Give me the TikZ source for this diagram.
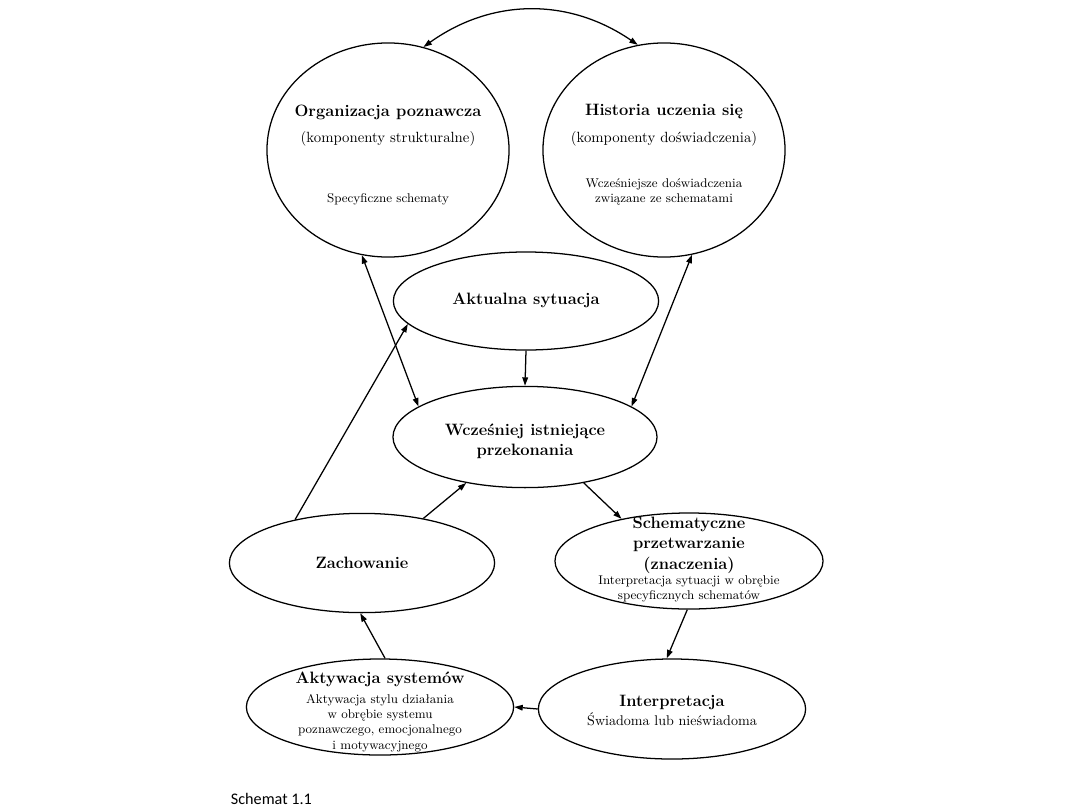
\documentclass[tikz,border=0pt]{standalone}
\usepackage{fontspec}
\newfontfamily\capfont{Carlito}
\usetikzlibrary{shapes.geometric,arrows.meta}
\begin{document}
\begin{tikzpicture}[x=0.025cm,y=-0.025cm,
  oval/.style={draw,ellipse,line width=0.9pt,inner sep=0pt},
  big/.style={font=\fontsize{11.7}{14.5}\selectfont\bfseries,align=center},
  mid/.style={font=\fontsize{10.5}{12}\selectfont,align=center},
  small/.style={font=\fontsize{9}{11}\selectfont,align=center},
  arr/.style={-{Triangle[length=6pt,width=4pt]},line width=0.9pt},
  arrboth/.style={{Triangle[length=6pt,width=4pt]}-{Triangle[length=6pt,width=4pt]},line width=0.9pt}]
  \useasboundingbox (0,0) rectangle (1080,810);

  % gorne kola
  \node[oval,minimum width=6.05cm,minimum height=5.35cm] (org) at (388,150) {};
  \node[oval,minimum width=6.05cm,minimum height=5.35cm] (hist) at (664,150) {};
  \node[big] (orgtitle) at (388,112) {Organizacja poznawcza};
  \node[mid] (orgsub) at (388,139) {(komponenty strukturalne)};
  \node[small] (orgnote) at (388,199) {Specyficzne schematy};
  \node[big] (histtitle) at (664,112) {Historia uczenia się};
  \node[mid] (histsub) at (664,139) {(komponenty doświadczenia)};
  \node[small] (histnote) at (664,192) {Wcześniejsze doświadczenia\\związane ze schematami};

  % srodek
  \node[oval,minimum width=6.63cm,minimum height=2.45cm] (akt) at (526,301) {};
  \node[big] (akttitle) at (526,300) {Aktualna sytuacja};
  \node[oval,minimum width=6.6cm,minimum height=2.53cm] (wcz) at (525,437) {};
  \node[big] (wcztitle) at (525,441) {Wcześniej istniejące\\przekonania};

  % dolne owale
  \node[oval,minimum width=6.63cm,minimum height=2.48cm] (zach) at (362,563) {};
  \node[big] (zachtitle) at (362,563) {Zachowanie};
  \node[oval,minimum width=6.7cm,minimum height=2.4cm] (schem) at (689,561) {};
  \node[big] (schemtitle) at (689,545) {Schematyczne\\przetwarzanie\\(znaczenia)};
  \node[small] (schemnote) at (689,589) {Interpretacja sytuacji w obrębie\\specyficznych schematów};
  \node[oval,minimum width=6.68cm,minimum height=2.5cm] (interp) at (672,709) {};
  \node[big] (interptitle) at (672,702) {Interpretacja};
  \node[font=\fontsize{10}{11}\selectfont] (interpnote) at (672,719) {Świadoma lub nieświadoma};
  \node[oval,minimum width=6.68cm,minimum height=2.4cm] (aktyw) at (380,707) {};
  \node[big] (aktywtitle) at (380,679) {Aktywacja systemów};
  \node[small] (aktywnote) at (380,723) {Aktywacja stylu działania\\w obrębie systemu\\poznawczego, emocjonalnego\\i motywacyjnego};

  % strzalki
  \draw[arrboth] (org.71) to[bend left=35] (hist.104);
  \draw[arrboth] (org.256) -- (wcz.164);
  \draw[arrboth] (hist.285) -- (wcz.16);
  \draw[arr] (akt.south) -- (wcz.north);
  \draw[arr] (zach.147) -- (akt.191);
  \draw[arr] (zach.36) -- (wcz.218);
  \draw[arr] (wcz.322) -- (schem.148);
  \draw[arr] (schem.268) -- (interp.96);
  \draw[arr] (interp.west) -- (aktyw.east);
  \draw[arr] (aktyw.84) -- (zach.268);

  % podpis
  \node[font=\capfont\fontsize{11.5}{13}\selectfont,anchor=west] (caption) at (226,799) {Schemat 1.1};
\end{tikzpicture}
\end{document}
